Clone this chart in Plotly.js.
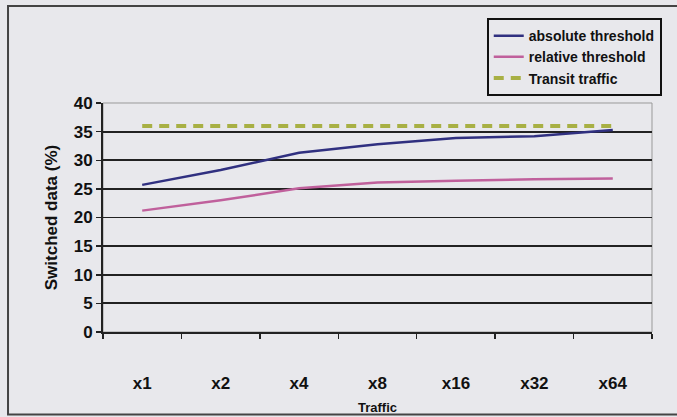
<!DOCTYPE html>
<html><head><meta charset="utf-8">
<script src="https://cdn.plot.ly/plotly-3.0.1.min.js"></script>
<style>html,body{margin:0;padding:0;background:#e8e8ec;}</style>
</head><body>
<div id="chart" style="width:677px;height:417px;"></div>
<script>
const categories = ["x1","x2","x4","x8","x16","x32","x64"];
const absoluteThreshold = [25.7, 28.3, 31.3, 32.8, 33.9, 34.2, 35.3];
const relativeThreshold = [21.2, 23.0, 25.1, 26.1, 26.4, 26.7, 26.8];
const transitTraffic = [36, 36, 36, 36, 36, 36, 36];
const yTicks = [0,5,10,15,20,25,30,35,40];

const bg = '#e8e8ec';
const fontFam = 'Liberation Sans, Arial, sans-serif';

const traces = [
  {x: categories, y: absoluteThreshold, name: 'absolute threshold', mode: 'lines',
   line: {color: '#303080', width: 2.5}},
  {x: categories, y: relativeThreshold, name: 'relative threshold', mode: 'lines',
   line: {color: '#c0609c', width: 2.5}},
  {x: categories, y: transitTraffic, name: 'Transit traffic', mode: 'lines',
   line: {color: '#a8b044', width: 4, dash: '10px,7px'}}
];

const layout = {
  width: 677, height: 417,
  margin: {l: 103, r: 25, t: 103, b: 85},
  paper_bgcolor: bg, plot_bgcolor: bg,
  font: {family: fontFam, color: '#111'},
  showlegend: true,
  legend: {x: 0.699, y: 1.371, xanchor: 'left', yanchor: 'top',
    bgcolor: bg, bordercolor: '#111', borderwidth: 2,
    font: {family: fontFam, size: 14, weight: 700, color: '#111'},
    tracegroupgap: 0, itemwidth: 30},
  xaxis: {
    type: 'category', range: [-0.5, 6.5],
    tickson: 'boundaries', ticks: 'outside', ticklen: 5, tickwidth: 1.5, tickcolor: '#222',
    showline: true, linecolor: '#222', linewidth: 2,
    showgrid: false, zeroline: false,
    ticklabelstandoff: 35,
    tickfont: {size: 17, weight: 700, family: fontFam, color: '#111'},
    title: {text: 'Traffic', font: {size: 13, weight: 700, family: fontFam, color: '#111'}, standoff: 10}
  },
  yaxis: {
    range: [0, 40], tickvals: yTicks, ticktext: yTicks.map(String),
    ticks: 'outside', ticklen: 5, tickwidth: 1.5, tickcolor: '#222',
    showline: true, linecolor: '#222', linewidth: 2,
    showgrid: true, gridcolor: '#222', gridwidth: 1.8, zeroline: false,
    tickfont: {size: 17, weight: 700, family: fontFam, color: '#111'},
    title: {text: 'Switched data (%)', font: {size: 17, weight: 700, family: fontFam, color: '#111'}, standoff: 12}
  },
  shapes: [
    {type: 'rect', xref: 'paper', yref: 'paper', x0: 0, x1: 1, y0: 0, y1: 1,
     line: {color: '#999', width: 1}, layer: 'below'},
    {type: 'rect', xref: 'paper', yref: 'paper', x0: -0.173, x1: 1.1, y0: -0.36, y1: 1.424,
     line: {color: '#444', width: 2}}
  ]
};

Plotly.newPlot('chart', traces, layout, {displayModeBar: false, staticPlot: true});
</script>
</body></html>
